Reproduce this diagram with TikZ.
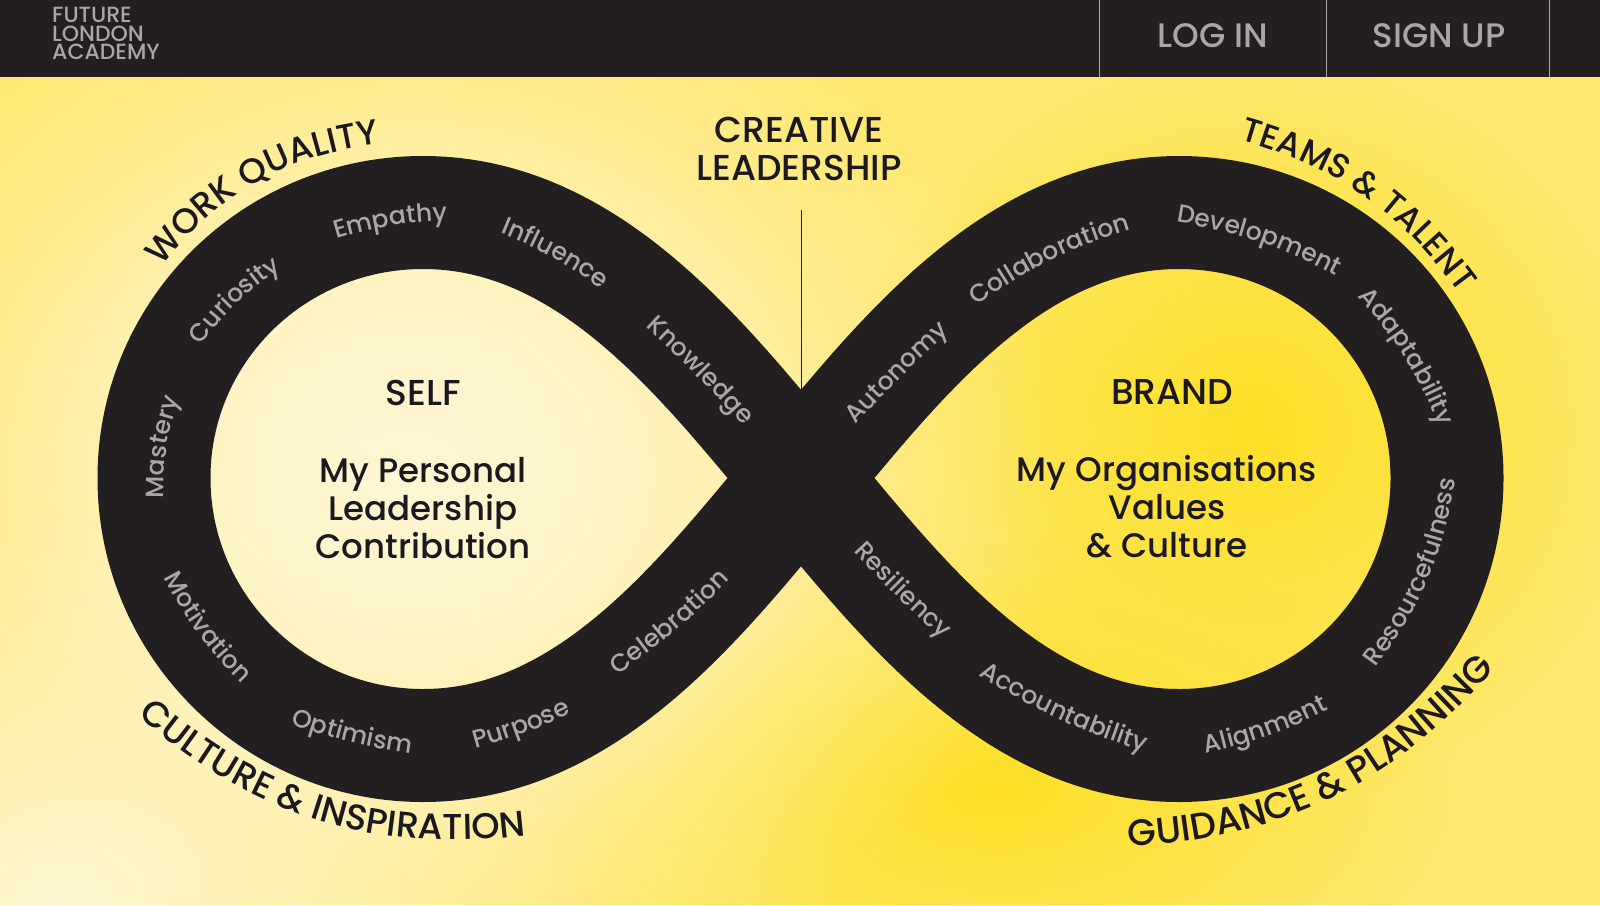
\documentclass[tikz,border=0pt]{standalone}
\usepackage{fontspec}
\setmainfont{Poppins Medium}
\usetikzlibrary{decorations.text,fadings}

\definecolor{barblack}{HTML}{231F20}
\definecolor{wordgray}{HTML}{A8A6A7}
\definecolor{inkblack}{HTML}{1B1820}
\definecolor{baseyellow}{HTML}{FEE86E}
\definecolor{deepyellow}{HTML}{FDE026}
\definecolor{paleyellow}{HTML}{FEF6D2}

\tikzfading[name=blobfade, inner color=transparent!0, outer color=transparent!100]

\begin{document}
\begin{tikzpicture}[x=1pt,y=-1pt,
    blob/.style={path fading=blobfade,fill=#1},
    band/.style={draw=barblack,line width=113pt,line join=round},
    rule/.style={draw=wordgray,line width=1pt},
    navlabel/.style={text=wordgray,font=\fontsize{34}{34}\selectfont},
    headline/.style={text=inkblack,align=center,font=\fontsize{34}{38}\selectfont},
    capline/.style={text=inkblack,align=center,font=\fontsize{36}{38}\selectfont},
    wordarc/.style={decorate,decoration={text along path,text align=center,
        text={|\color{wordgray}\fontsize{25}{25}\selectfont|#1}}},
    rimarc/.style 2 args={decorate,decoration={text along path,text align=center,
        text={|\color{inkblack}\fontsize{#1}{#1}\selectfont|#2}}}]

    \useasboundingbox (0,0) rectangle (1600,905);

    % background
    \begin{scope}
        \clip (0,0) rectangle (1600,905);
        \fill[baseyellow] (0,0) rectangle (1600,905);
        \fill[blob=deepyellow] (1250,430) ellipse (400 and 380);
        \fill[blob=deepyellow] (1000,790) ellipse (460 and 250);
        \fill[blob=paleyellow] (420,470) ellipse (640 and 560);
        \fill[blob=paleyellow] (400,470) ellipse (440 and 380);
        \fill[blob=paleyellow] (60,905) ellipse (540 and 400);
    \end{scope}

    % header bar
    \fill[barblack] (0,0) rectangle (1600,77);
    \coordinate (rule1a) at (1099,0);
    \coordinate (rule1b) at (1099,77);
    \coordinate (rule2a) at (1326,0);
    \coordinate (rule2b) at (1326,77);
    \coordinate (rule3a) at (1549,0);
    \coordinate (rule3b) at (1549,77);
    \draw[rule] (rule1a) -- (rule1b);
    \draw[rule] (rule2a) -- (rule2b);
    \draw[rule] (rule3a) -- (rule3b);

    \node[text=wordgray,align=left,anchor=north west,inner sep=0pt,
        font=\fontsize{22}{18.5}\selectfont] (logo) at (52,7)
    {FUTURE\\LONDON\\ACADEMY};
    \node[navlabel] (login) at (1213,36) {LOG IN};
    \node[navlabel] (signup) at (1439,36) {SIGN UP};

    % the loop
    \draw[band] (801,478)
        .. controls (704,362) and (590,212.5) .. (423,212.5)
        .. controls (275,212.5) and (154,330) .. (154,478)
        .. controls (154,626) and (275,745.5) .. (423,745.5)
        .. controls (590,745.5) and (704,594) .. (801,478)
        .. controls (898,362) and (1012,212.5) .. (1179,212.5)
        .. controls (1327,212.5) and (1447,330) .. (1447,478)
        .. controls (1447,626) and (1327,745.5) .. (1179,745.5)
        .. controls (1012,745.5) and (898,594) .. (801,478) -- cycle;

    % centre labels
    \node[capline] (creative) at (799,149) {CREATIVE\\LEADERSHIP};
    \coordinate (linetop) at (801,210);
    \coordinate (notch) at (801,390);
    \draw[draw=inkblack,line width=1pt] (linetop) -- (notch);

    \node[capline] (self) at (423,393) {SELF};
    \node[headline] (selftext) at (423,508) {My Personal\\Leadership\\Contribution};
    \node[capline] (brand) at (1172,392) {BRAND};
    \node[headline] (brandtext) at (1167,507) {My Organisations\\Values\\{\&} Culture};

    % words on the band
    \path[wordarc={Mastery}] (164,517) to[bend left=12] (186,381);
    \path[wordarc={Curiosity}] (192,358) to[bend left=12] (294,261);
    \path[wordarc={Empathy}] (323,243) to[bend left=8] (461,220);
    \path[wordarc={Influence}] (483,226) to[bend left=8] (616,300);
    \path[wordarc={Knowledge}] (632,314) to[bend left=3] (756,440);
    \path[wordarc={Autonomy}] (845,437) to[bend left=3] (961,321);
    \path[wordarc={Collaboration}] (964,315) to[bend left=10] (1146,225);
    \path[wordarc={Development}] (1164,220) to[bend left=10] (1347,282);
    \path[wordarc={Adaptability}] (1353,291) to[bend left=10] (1442,433);
    \path[wordarc={Resourcefulness}] (1365,682) to[bend right=15] (1458,462);
    \path[wordarc={Alignment}] (1189,757) to[bend right=8] (1344,702);
    \path[wordarc={Accountability}] (963,665) to[bend right=8] (1162,757);
    \path[wordarc={Resiliency}] (842,539) to[bend right=3] (955,650);
    \path[wordarc={Motivation}] (156,562) to[bend right=10] (254,696);
    \path[wordarc={Optimism}] (276,719) to[bend right=6] (426,756);
    \path[wordarc={Purpose}] (459,753) to[bend right=6] (586,706);
    \path[wordarc={Celebration}] (604,684) to[bend right=6] (741,568);

    % words round the rim
    \path[rimarc={35}{WORK QUALITY}] (149,284) to[bend left=25] (401,142);
    \path[rimarc={34}{TEAMS {\&} TALENT}] (1227,136) to[bend left=20] (1467,304);
    \path[rimarc={36}{CULTURE {\&} INSPIRATION}] (110,690) to[bend right=27] (563,830);
    \path[rimarc={37}{GUIDANCE {\&} PLANNING}] (1101,847) to[bend right=25] (1513,647);
\end{tikzpicture}
\end{document}
